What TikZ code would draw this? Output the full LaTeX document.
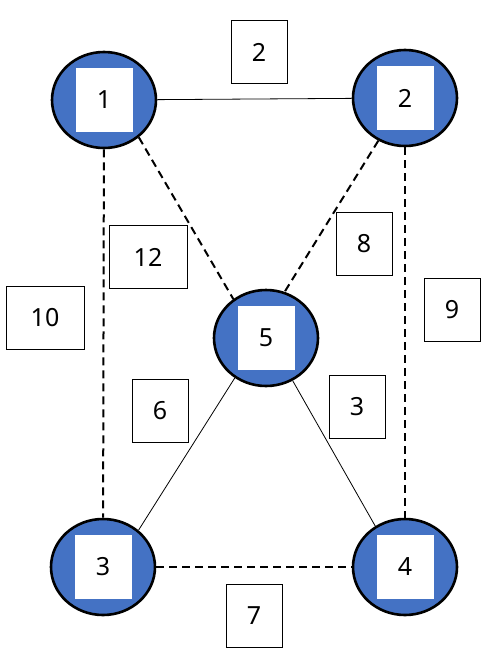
\documentclass[tikz,border=0pt]{standalone}
\usepackage{fontspec}
\setmainfont{Noto Sans}
\usetikzlibrary{shapes.geometric}
\definecolor{vblue}{HTML}{4472C4}

\begin{document}
\begin{tikzpicture}[x=1pt, y=-1pt,
  font=\fontsize{25}{27}\selectfont,
  vertex/.style={ellipse, draw, line width=2.6pt, fill=vblue, inner sep=0pt,
                 minimum width=104pt, minimum height=96pt},
  inbox/.style={fill=white, minimum width=57pt, minimum height=64pt, inner sep=0pt},
  wbox/.style={draw, fill=white, line width=0.7pt, minimum width=56pt,
               minimum height=63pt, inner sep=0pt},
  wwide/.style={wbox, minimum width=78pt},
  solidedge/.style={line width=0.8pt},
  dashedge/.style={line width=2pt, dash pattern=on 8pt off 5pt}]
\useasboundingbox (0,0) rectangle (493,662);
% vertices
\node[vertex] (v1) at (104,100) {};
\node[vertex] (v2) at (405,98) {};
\node[vertex] (v5) at (266,338) {};
\node[vertex] (v3) at (103,567) {};
\node[vertex] (v4) at (405,567) {};
\node[inbox] (s1) at (v1) {1};
\node[inbox] (s2) at (v2) {2};
\node[inbox] (s5) at (v5) {5};
\node[inbox] (s3) at (v3) {3};
\node[inbox] (s4) at (v4) {4};
% edges
\draw[solidedge] (v1) -- (v2);
\draw[dashedge] (v1) -- (v3);
\draw[dashedge] (v1.-47) -- (v5.130);
\draw[dashedge] (v2.-122) -- (v5.68);
\draw[dashedge] (v2) -- (v4);
\draw[solidedge] (v5.-128) -- (v3.46);
\draw[solidedge] (v5.-58) -- (v4.126);
\draw[dashedge] (v3) -- (v4);
% weights
\node[wbox] (w12) at (259,52) {2};
\node[wwide] (w15) at (148,257) {12};
\node[wwide] (w13) at (45,318) {10};
\node[wbox] (w25) at (364,244) {8};
\node[wbox] (w24) at (452,310) {9};
\node[wbox] (w53) at (160,411) {6};
\node[wbox] (w54) at (357,407) {3};
\node[wbox] (w34) at (254,616) {7};
\end{tikzpicture}
\end{document}
